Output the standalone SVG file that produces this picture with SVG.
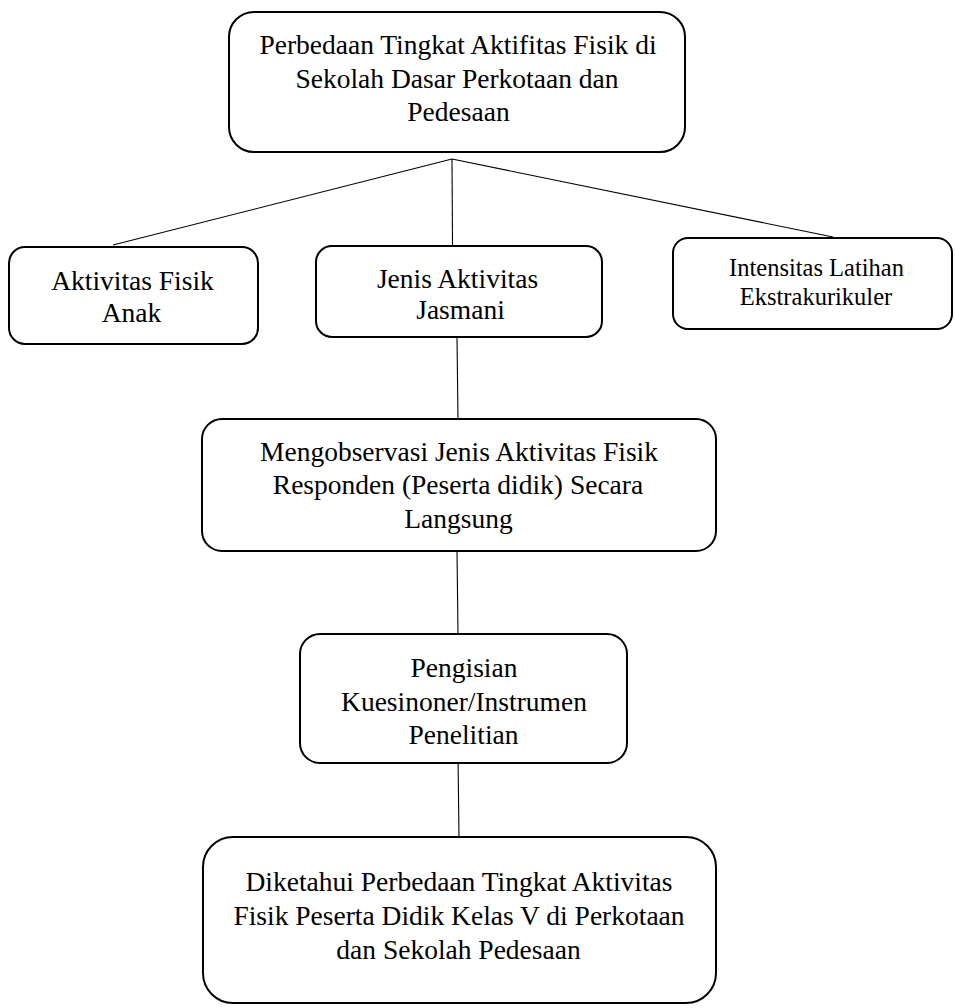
<svg xmlns="http://www.w3.org/2000/svg" width="955" height="1008" viewBox="0 0 955 1008">
<style>
.box{fill:#fff;stroke:#000;stroke-width:2}
.con line{stroke:#000;stroke-width:1.1}
text{font-family:"Liberation Serif","Times New Roman",serif;font-size:27.5px;fill:#000;text-anchor:middle}
.sm{font-size:24.5px}
</style>
<rect width="955" height="1008" fill="#fff"/>
<g id="connectors" class="con">
<line x1="452" y1="159" x2="113" y2="245"/>
<line x1="452" y1="159" x2="452.5" y2="246"/>
<line x1="452" y1="159" x2="833" y2="237"/>
<line x1="457" y1="337" x2="458" y2="420"/>
<line x1="457" y1="551" x2="458" y2="634"/>
<line x1="458" y1="755" x2="459" y2="837"/>
</g>
<g id="n_top">
<rect class="box" x="229" y="12" width="456" height="140" rx="25"/>
<text x="458" y="54">Perbedaan Tingkat Aktifitas Fisik di</text>
<text x="457" y="87.5">Sekolah Dasar Perkotaan dan</text>
<text x="458.5" y="120.5">Pedesaan</text>
</g>
<g id="n_aktivitas">
<rect class="box" x="9" y="247" width="249" height="97" rx="16"/>
<text x="132.5" y="289.5">Aktivitas Fisik</text>
<text x="131.5" y="322">Anak</text>
</g>
<g id="n_jenis">
<rect class="box" x="316" y="246" width="286" height="91" rx="16"/>
<text x="457.5" y="287.5">Jenis Aktivitas</text>
<text x="460.5" y="319">Jasmani</text>
</g>
<g id="n_intensitas">
<rect class="box" x="673" y="238" width="279" height="91" rx="15"/>
<text class="sm" x="816.5" y="276">Intensitas Latihan</text>
<text class="sm" x="816" y="304.5">Ekstrakurikuler</text>
</g>
<g id="n_observasi">
<rect class="box" x="202" y="419" width="514" height="132" rx="20"/>
<text x="459" y="461">Mengobservasi Jenis Aktivitas Fisik</text>
<text x="458" y="494">Responden (Peserta didik) Secara</text>
<text x="458.5" y="527.5">Langsung</text>
</g>
<g id="n_pengisian">
<rect class="box" x="300" y="634" width="327" height="129" rx="20"/>
<text x="464" y="677">Pengisian</text>
<text x="464" y="711">Kuesinoner/Instrumen</text>
<text x="463.5" y="744">Penelitian</text>
</g>
<g id="n_diketahui">
<rect class="box" x="203" y="837" width="513" height="166" rx="30"/>
<text x="459" y="891">Diketahui Perbedaan Tingkat Aktivitas</text>
<text x="459" y="925">Fisik Peserta Didik Kelas V di Perkotaan</text>
<text x="458.5" y="958.5">dan Sekolah Pedesaan</text>
</g>
</svg>
